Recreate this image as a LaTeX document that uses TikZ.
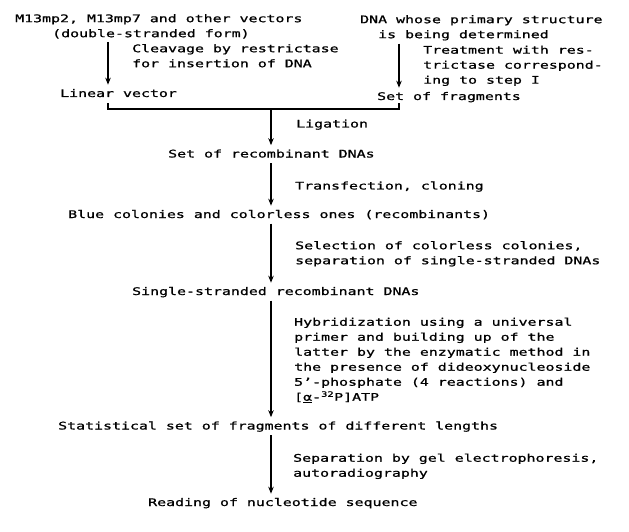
\documentclass[tikz,border=0pt]{standalone}
\usepackage{fontspec}
\usepackage{tikz}
\usetikzlibrary{arrows.meta,positioning,calc}
\newfontfamily\typewr[FakeStretch=1.42,FakeBold=0.9]{DejaVu Sans Mono}

\begin{document}
\begin{tikzpicture}[
    x=1pt,y=-1pt,
    txt/.style={font=\fontsize{10.5}{15}\typewr,inner sep=0pt,anchor=base west,text height=7.6pt,text depth=2.4pt},
    note/.style={font=\fontsize{10.5}{15}\typewr,inner sep=0pt,align=left,anchor=north west},
    arr/.style={-{Stealth[length=7pt,width=5.5pt]},line width=1.1pt,shorten <=3pt,shorten >=4.5pt},
    link/.style={line width=1.1pt}
  ]
    \useasboundingbox (0,0) rectangle (629,532);
    \coordinate (larr) at (108,0);
    \coordinate (rarr) at (399,0);
    \coordinate (join) at (271,109);

    % two starting materials
    \node[note] (lsrc) at (15,14) {M13mp2, M13mp7 and other vectors\\\hspace*{37pt}(double-stranded form)};
    \node[note] (cleave) at (132,44) {Cleavage by restrictase\\for insertion of DNA};
    \node[txt] (linvec) at (60,97) {Linear vector};
    \draw[arr] (lsrc.south -| larr) -- (linvec.north -| larr);

    \node[note] (rsrc) at (360,15) {DNA whose primary structure\\\hspace*{18pt}is being determined};
    \node[note] (treat) at (423,45.5) {Treatment with res-\\trictase correspond-\\ing to step I};
    \node[txt] (fragset) at (377,100) {Set of fragments};
    \draw[arr] (rsrc.south -| rarr) -- (fragset.north -| rarr);

    \draw[link,shorten <=3.6pt,shorten >=0.6pt] (linvec.south -| larr) |- (join) -| (fragset.south -| rarr);

    % main chain
    \node[txt] (ligat) at (296,127.5) {Ligation};
    \node[txt] (recdna) at (168,157.5) {Set of recombinant DNAs};
    \node[txt] (transf) at (295,189.5) {Transfection, cloning};
    \node[txt] (colonies) at (68,218) {Blue colonies and colorless ones (recombinants)};
    \node[note] (select) at (295,241) {Selection of colorless colonies,\\separation of single-stranded DNAs};
    \node[txt] (ssdna) at (132,295) {Single-stranded recombinant DNAs};
    \node[note] (hybrid) at (294,317.5) {Hybridization using a universal\\primer and building up of the\\latter by the enzymatic method in\\the presence of dideoxynucleoside\\5’-phosphate (4 reactions) and\\{[}\underline{α}-\textsuperscript{32}P]ATP};
    \node[txt] (statset) at (58,429.5) {Statistical set of fragments of different lengths};
    \node[note] (separ) at (293,453.5) {Separation by gel electrophoresis,\\autoradiography};
    \node[txt] (reading) at (148,506) {Reading of nucleotide sequence};

    \draw[arr,shorten <=0pt] (join) -- (recdna.north -| join);
    \draw[arr] (recdna.south -| join) -- (colonies.north -| join);
    \draw[arr] (colonies.south -| join) -- (ssdna.north -| join);
    \draw[arr] (ssdna.south -| join) -- (statset.north -| join);
    \draw[arr] (statset.south -| join) -- (reading.north -| join);
  \end{tikzpicture}
\end{document}
